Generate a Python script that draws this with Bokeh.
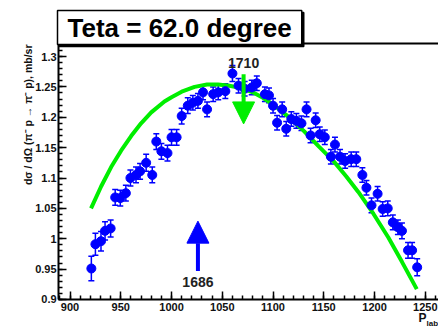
import math

from bokeh.embed import file_html
from bokeh.models import (Arrow, ColumnDataSource, CustomJSTickFormatter, FixedTicker,
                          Label, LinearAxis, NormalHead, Range1d, TeeHead, Whisker)
from bokeh.plotting import figure
from bokeh.resources import INLINE

# Measured differential cross section vs beam momentum
p_lab = [921, 925, 930.5, 934.5, 940, 944.5, 949.5, 955, 959.5, 965, 969, 975, 981, 985,
         990, 996, 1000, 1005, 1010, 1016, 1021, 1026, 1031, 1035, 1041, 1046, 1053, 1060,
         1066, 1072, 1079, 1084, 1092, 1096, 1100, 1104, 1109, 1113, 1118, 1123, 1128, 1133,
         1137, 1142, 1146, 1151, 1157, 1161, 1166, 1171, 1177, 1182, 1188, 1192, 1197, 1203,
         1208, 1213, 1218, 1223, 1227, 1233, 1237, 1242]
dsigma = [0.951, 0.991, 0.996, 1.013, 1.017, 1.068, 1.067, 1.075, 1.100, 1.105, 1.111, 1.125,
          1.105, 1.160, 1.144, 1.141, 1.167, 1.167, 1.202, 1.219, 1.224, 1.227, 1.241, 1.213,
          1.238, 1.241, 1.243, 1.272, 1.252, 1.247, 1.249, 1.256, 1.238, 1.236, 1.219, 1.191,
          1.213, 1.181, 1.197, 1.194, 1.190, 1.213, 1.170, 1.195, 1.172, 1.167, 1.135, 1.155,
          1.135, 1.128, 1.131, 1.131, 1.105, 1.084, 1.055, 1.074, 1.049, 1.050, 1.027, 1.019,
          1.013, 0.981, 0.981, 0.953]
dsigma_err = [0.020, 0.018, 0.016, 0.015, 0.014, 0.013, 0.013, 0.013, 0.013, 0.013, 0.013,
              0.014, 0.013, 0.013, 0.013, 0.013, 0.013, 0.013, 0.013, 0.013, 0.012, 0.012,
              0.012, 0.012, 0.012, 0.012, 0.012, 0.013, 0.012, 0.012, 0.012, 0.012, 0.012,
              0.012, 0.012, 0.012, 0.012, 0.012, 0.012, 0.012, 0.012, 0.012, 0.012, 0.012,
              0.012, 0.012, 0.012, 0.012, 0.012, 0.012, 0.012, 0.012, 0.012, 0.012, 0.012,
              0.012, 0.012, 0.012, 0.012, 0.012, 0.013, 0.013, 0.013, 0.014]

# Model curve
fit_p = [920.7, 930.6, 940.5, 950.3, 960.2, 970, 980, 993, 1000, 1010, 1022.7, 1035, 1045.8,
         1057, 1068.8, 1080, 1090, 1100, 1115, 1130, 1145, 1160, 1172, 1184, 1197, 1213.6,
         1227, 1241.6]
fit_dsigma = [1.050, 1.086, 1.118, 1.145, 1.169, 1.190, 1.208, 1.226, 1.233, 1.242, 1.250,
              1.254, 1.254, 1.252, 1.248, 1.241, 1.232, 1.221, 1.201, 1.178, 1.152, 1.127,
              1.103, 1.077, 1.046, 1.002, 0.962, 0.917]

# Resonance markers (mass in MeV, position on the momentum axis)
res_mass = ["1686", "1710"]
res_p = [1026, 1071]
res_tail = [0.947, 1.271]
res_tip = [1.029, 1.189]
res_text_y = [0.928, 1.289]
res_color = ["#0000ff", "#00ee00"]

x_ticks = [900, 950, 1000, 1050, 1100, 1150, 1200, 1250]
y_ticks = [0.9, 0.95, 1.0, 1.05, 1.1, 1.15, 1.2, 1.25, 1.3]

# Axis box limits (data units) and the full canvas extent
X_LO, X_HI = 888.7, 1263.0
Y_LO, Y_HI = 0.9, 1.3214

FONT = "Liberation Sans"
W, H = 438, 327

# The frame spans the whole canvas; the axes are pinned to the box limits so
# that titles and tick labels can be placed anywhere on the page.
p = figure(width=W, height=H, output_backend="svg", toolbar_location=None,
           x_range=Range1d(831.5, 1263.0), y_range=Range1d(0.8539, 1.3922),
           x_axis_location=None, y_axis_location=None,
           min_border_left=0, min_border_right=0, min_border_top=0, min_border_bottom=0)
p.outline_line_color = None
p.xgrid.visible = False
p.ygrid.visible = False
p.background_fill_color = "white"
p.border_fill_color = "white"

fmt = CustomJSTickFormatter(code="return String(+tick.toFixed(2));")


def style_axis(ax):
    ax.axis_line_width = 2
    ax.axis_line_color = "black"
    ax.major_tick_in = 8
    ax.major_tick_out = 0
    ax.minor_tick_in = 4
    ax.minor_tick_out = 0
    ax.major_tick_line_width = 1.5
    ax.minor_tick_line_width = 1.5
    ax.major_tick_line_color = "black"
    ax.minor_tick_line_color = "black"
    ax.major_label_text_font = FONT
    ax.major_label_text_font_style = "bold"
    ax.major_label_text_font_size = "11px"
    ax.major_label_text_color = "#111111"


xaxis = LinearAxis(ticker=FixedTicker(ticks=x_ticks, minor_ticks=list(range(890, 1261, 10))),
                   formatter=fmt, fixed_location=Y_LO, bounds=(X_LO, X_HI))
style_axis(xaxis)
xaxis.major_label_standoff = 4
p.add_layout(xaxis, "below")

yaxis = LinearAxis(ticker=FixedTicker(ticks=y_ticks,
                                      minor_ticks=[round(0.9 + 0.01 * i, 2) for i in range(43)]),
                   formatter=fmt, fixed_location=X_LO, bounds=(Y_LO, Y_HI))
style_axis(yaxis)
yaxis.major_label_standoff = 2
p.add_layout(yaxis, "left")

top = LinearAxis(ticker=FixedTicker(ticks=[]), fixed_location=Y_HI, bounds=(X_LO, X_HI),
                 major_label_text_font_size="0px")
top.axis_line_width = 2
top.major_tick_line_color = None
top.minor_tick_line_color = None
p.add_layout(top, "above")

src = ColumnDataSource(dict(
    p=p_lab, y=dsigma,
    lo=[v - e for v, e in zip(dsigma, dsigma_err)],
    hi=[v + e for v, e in zip(dsigma, dsigma_err)],
))

# model curve
p.line(fit_p, fit_dsigma, line_color="#00ee00", line_width=4)

# error bars and data points
p.add_layout(Whisker(source=src, base="p", lower="lo", upper="hi", dimension="height",
                     line_color="#0000ff", line_width=1.5,
                     lower_head=TeeHead(size=6, line_color="#0000ff", line_width=1.5),
                     upper_head=TeeHead(size=6, line_color="#0000ff", line_width=1.5)))
p.scatter("p", "y", source=src, size=9, fill_color="#0000ff", line_color="#0000ff")

# resonance arrows and labels
for m, xp, y0, y1, ty, c in zip(res_mass, res_p, res_tail, res_tip, res_text_y, res_color):
    p.add_layout(Arrow(x_start=xp, y_start=y0, x_end=xp, y_end=y1, line_color=c, line_width=4,
                       end=NormalHead(size=22, fill_color=c, line_color=c, line_width=1)))
    p.add_layout(Label(x=xp, y=ty, text=m, text_align="center", text_baseline="middle",
                       text_font=FONT, text_font_style="bold", text_font_size="14px",
                       text_color="#222222"))

# axis titles (screen units, measured from the bottom-left corner)
p.add_layout(Label(x=27, y=H - 44, x_units="screen", y_units="screen", angle=math.pi / 2,
                   text="dσ / dΩ (π⁻ p → π⁻ p), mb/sr", text_align="right",
                   text_baseline="middle", text_font=FONT, text_font_style="bold",
                   text_font_size="10.5px", text_color="#111111"))
p.add_layout(Label(x=418, y=H - 317, x_units="screen", y_units="screen", text="P",
                   text_align="left", text_baseline="middle", text_font=FONT,
                   text_font_style="bold", text_font_size="12px", text_color="#111111"))
p.add_layout(Label(x=426, y=H - 323, x_units="screen", y_units="screen", text="lab",
                   text_align="left", text_baseline="middle", text_font=FONT,
                   text_font_style="bold", text_font_size="8px", text_color="#111111"))

# title box with drop shadow
title = "Teta = 62.0 degree"
for dx, dy, fill in [(2, -2, "black"), (0, 0, "white")]:
    p.add_layout(Label(x=57 + dx, y=H - 27 + dy, x_units="screen", y_units="screen",
                       text=title, text_align="left", text_baseline="middle", text_font=FONT,
                       text_font_style="bold", text_font_size="26px", text_color="black",
                       background_fill_color=fill, border_line_color="black",
                       border_line_width=1.5, padding=(10, 2)))

open("out.html", "w").write(file_html(p, INLINE))
